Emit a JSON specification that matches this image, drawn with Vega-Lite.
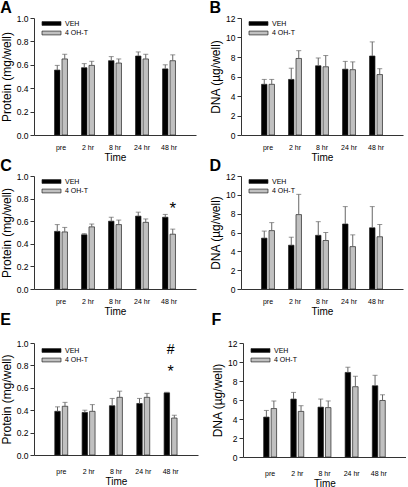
{
  "$schema": "https://vega.github.io/schema/vega-lite/v6.json",
  "padding": 0,
  "background": "white",
  "datasets": {
    "A": [
      {"time": "pre", "group": "VEH", "value": 0.555, "upper": 0.595},
      {"time": "pre", "group": "4 OH-T", "value": 0.65, "upper": 0.69},
      {"time": "2 hr", "group": "VEH", "value": 0.575, "upper": 0.61},
      {"time": "2 hr", "group": "4 OH-T", "value": 0.595, "upper": 0.63},
      {"time": "8 hr", "group": "VEH", "value": 0.635, "upper": 0.67},
      {"time": "8 hr", "group": "4 OH-T", "value": 0.615, "upper": 0.65},
      {"time": "24 hr", "group": "VEH", "value": 0.675, "upper": 0.71},
      {"time": "24 hr", "group": "4 OH-T", "value": 0.65, "upper": 0.69},
      {"time": "48 hr", "group": "VEH", "value": 0.565, "upper": 0.6},
      {"time": "48 hr", "group": "4 OH-T", "value": 0.635, "upper": 0.685}
    ],
    "B": [
      {"time": "pre", "group": "VEH", "value": 5.2, "upper": 5.7},
      {"time": "pre", "group": "4 OH-T", "value": 5.2, "upper": 5.7},
      {"time": "2 hr", "group": "VEH", "value": 5.7, "upper": 6.85},
      {"time": "2 hr", "group": "4 OH-T", "value": 7.85, "upper": 8.65},
      {"time": "8 hr", "group": "VEH", "value": 7.1, "upper": 7.9},
      {"time": "8 hr", "group": "4 OH-T", "value": 7.0, "upper": 8.15},
      {"time": "24 hr", "group": "VEH", "value": 6.75, "upper": 7.55},
      {"time": "24 hr", "group": "4 OH-T", "value": 6.7, "upper": 7.5},
      {"time": "48 hr", "group": "VEH", "value": 8.1, "upper": 9.55},
      {"time": "48 hr", "group": "4 OH-T", "value": 6.2, "upper": 6.8}
    ],
    "C": [
      {"time": "pre", "group": "VEH", "value": 0.51, "upper": 0.57},
      {"time": "pre", "group": "4 OH-T", "value": 0.505, "upper": 0.545},
      {"time": "2 hr", "group": "VEH", "value": 0.48, "upper": 0.49},
      {"time": "2 hr", "group": "4 OH-T", "value": 0.55, "upper": 0.575},
      {"time": "8 hr", "group": "VEH", "value": 0.6, "upper": 0.635},
      {"time": "8 hr", "group": "4 OH-T", "value": 0.57, "upper": 0.61},
      {"time": "24 hr", "group": "VEH", "value": 0.645, "upper": 0.68},
      {"time": "24 hr", "group": "4 OH-T", "value": 0.59, "upper": 0.62},
      {"time": "48 hr", "group": "VEH", "value": 0.635, "upper": 0.66},
      {"time": "48 hr", "group": "4 OH-T", "value": 0.485, "upper": 0.53}
    ],
    "D": [
      {"time": "pre", "group": "VEH", "value": 5.4, "upper": 6.15},
      {"time": "pre", "group": "4 OH-T", "value": 6.2, "upper": 7.05},
      {"time": "2 hr", "group": "VEH", "value": 4.65, "upper": 5.5},
      {"time": "2 hr", "group": "4 OH-T", "value": 7.9, "upper": 10.05},
      {"time": "8 hr", "group": "VEH", "value": 5.7, "upper": 7.15},
      {"time": "8 hr", "group": "4 OH-T", "value": 5.15, "upper": 6.0},
      {"time": "24 hr", "group": "VEH", "value": 6.9, "upper": 8.75},
      {"time": "24 hr", "group": "4 OH-T", "value": 4.5, "upper": 5.75},
      {"time": "48 hr", "group": "VEH", "value": 6.5, "upper": 8.75},
      {"time": "48 hr", "group": "4 OH-T", "value": 5.55, "upper": 6.85}
    ],
    "E": [
      {"time": "pre", "group": "VEH", "value": 0.39, "upper": 0.43},
      {"time": "pre", "group": "4 OH-T", "value": 0.435, "upper": 0.47},
      {"time": "2 hr", "group": "VEH", "value": 0.38, "upper": 0.4},
      {"time": "2 hr", "group": "4 OH-T", "value": 0.39, "upper": 0.45},
      {"time": "8 hr", "group": "VEH", "value": 0.44, "upper": 0.505},
      {"time": "8 hr", "group": "4 OH-T", "value": 0.515, "upper": 0.57},
      {"time": "24 hr", "group": "VEH", "value": 0.46, "upper": 0.505},
      {"time": "24 hr", "group": "4 OH-T", "value": 0.515, "upper": 0.55},
      {"time": "48 hr", "group": "VEH", "value": 0.555, "upper": 0.56},
      {"time": "48 hr", "group": "4 OH-T", "value": 0.33, "upper": 0.355}
    ],
    "F": [
      {"time": "pre", "group": "VEH", "value": 4.2, "upper": 4.9},
      {"time": "pre", "group": "4 OH-T", "value": 5.1, "upper": 5.9},
      {"time": "2 hr", "group": "VEH", "value": 6.1, "upper": 6.8},
      {"time": "2 hr", "group": "4 OH-T", "value": 4.8, "upper": 5.4},
      {"time": "8 hr", "group": "VEH", "value": 5.25, "upper": 6.1},
      {"time": "8 hr", "group": "4 OH-T", "value": 5.2, "upper": 5.9},
      {"time": "24 hr", "group": "VEH", "value": 8.9, "upper": 9.45},
      {"time": "24 hr", "group": "4 OH-T", "value": 7.4, "upper": 8.5},
      {"time": "48 hr", "group": "VEH", "value": 7.5, "upper": 8.6},
      {"time": "48 hr", "group": "4 OH-T", "value": 5.95, "upper": 6.55}
    ],
    "Cnote": [
      {"time": "48 hr", "group": "4 OH-T", "label": "*", "value": 0.71}
    ],
    "Ehash": [
      {"time": "48 hr", "label": "#", "value": 0.935}
    ],
    "Estar": [
      {"time": "48 hr", "label": "*", "value": 0.74}
    ]
  },
  "vconcat": [
    {
      "hconcat": [
        {
          "title": {"text": "A"},
          "width": 162, "height": 117,
          "data": {"name": "A"},
          "encoding": {
            "x": {"field": "time", "type": "nominal", "sort": ["pre", "2 hr", "8 hr", "24 hr", "48 hr"], "scale": {"paddingInner": 0.52, "paddingOuter": 0.76}, "axis": {"title": "Time"}},
            "xOffset": {"field": "group", "type": "nominal", "sort": ["VEH", "4 OH-T"], "scale": {"paddingInner": 0.27, "paddingOuter": 0}},
            "y": {"field": "value", "type": "quantitative", "scale": {"domain": [0, 1]}, "axis": {"title": "Protein (mg/well)", "values": [0, 0.2, 0.4, 0.6, 0.8, 1.0], "format": ".1f", "labelOverlap": false}}
          },
          "layer": [
            {"mark": {"type": "bar", "stroke": "#222", "strokeWidth": 0.7},
             "encoding": {
               "fill": {"field": "group", "type": "nominal", "sort": ["VEH", "4 OH-T"], "scale": {"domain": ["VEH", "4 OH-T"], "range": ["#000000", "#c0c0c0"]}, "legend": {"title": null, "orient": "none", "legendX": 12, "legendY": 0}}
             }},
            {"mark": {"type": "rule", "color": "#666", "strokeWidth": 1},
             "encoding": {"y2": {"field": "upper"}}},
            {"mark": {"type": "tick", "color": "#666", "size": 5, "thickness": 1},
             "encoding": {"y": {"field": "upper", "type": "quantitative", "axis": {"title": "Protein (mg/well)", "values": [0, 0.2, 0.4, 0.6, 0.8, 1.0], "format": ".1f", "labelOverlap": false}}}}
          ]
        },
        {
          "title": {"text": "B"},
          "width": 162, "height": 117,
          "data": {"name": "B"},
          "encoding": {
            "x": {"field": "time", "type": "nominal", "sort": ["pre", "2 hr", "8 hr", "24 hr", "48 hr"], "scale": {"paddingInner": 0.52, "paddingOuter": 0.76}, "axis": {"title": "Time"}},
            "xOffset": {"field": "group", "type": "nominal", "sort": ["VEH", "4 OH-T"], "scale": {"paddingInner": 0.27, "paddingOuter": 0}},
            "y": {"field": "value", "type": "quantitative", "scale": {"domain": [0, 12]}, "axis": {"title": "DNA (µg/well)", "values": [0, 2, 4, 6, 8, 10, 12], "labelOverlap": false}}
          },
          "layer": [
            {"mark": {"type": "bar", "stroke": "#222", "strokeWidth": 0.7},
             "encoding": {
               "fill": {"field": "group", "type": "nominal", "sort": ["VEH", "4 OH-T"], "scale": {"domain": ["VEH", "4 OH-T"], "range": ["#000000", "#c0c0c0"]}, "legend": {"title": null, "orient": "none", "legendX": 12, "legendY": 0}}
             }},
            {"mark": {"type": "rule", "color": "#666", "strokeWidth": 1},
             "encoding": {"y2": {"field": "upper"}}},
            {"mark": {"type": "tick", "color": "#666", "size": 5, "thickness": 1},
             "encoding": {"y": {"field": "upper", "type": "quantitative", "axis": {"title": "DNA (µg/well)", "values": [0, 2, 4, 6, 8, 10, 12], "labelOverlap": false}}}}
          ]
        }
      ],
      "spacing": 13,
      "resolve": {"scale": {"fill": "independent"}, "legend": {"fill": "independent"}}
    },
    {
      "hconcat": [
        {
          "title": {"text": "C"},
          "width": 162, "height": 113,
          "encoding": {
            "x": {"field": "time", "type": "nominal", "sort": ["pre", "2 hr", "8 hr", "24 hr", "48 hr"], "scale": {"paddingInner": 0.52, "paddingOuter": 0.76}, "axis": {"title": "Time"}},
            "xOffset": {"field": "group", "type": "nominal", "sort": ["VEH", "4 OH-T"], "scale": {"domain": ["VEH", "4 OH-T"], "paddingInner": 0.27, "paddingOuter": 0}},
            "y": {"field": "value", "type": "quantitative", "scale": {"domain": [0, 1]}, "axis": {"title": "Protein (mg/well)", "values": [0, 0.2, 0.4, 0.6, 0.8, 1.0], "format": ".1f", "labelOverlap": false}}
          },
          "layer": [
            {"data": {"name": "C"}, "mark": {"type": "bar", "stroke": "#222", "strokeWidth": 0.7},
             "encoding": {
               "fill": {"field": "group", "type": "nominal", "sort": ["VEH", "4 OH-T"], "scale": {"domain": ["VEH", "4 OH-T"], "range": ["#000000", "#c0c0c0"]}, "legend": {"title": null, "orient": "none", "legendX": 12, "legendY": 0}}
             }},
            {"data": {"name": "C"}, "mark": {"type": "rule", "color": "#666", "strokeWidth": 1},
             "encoding": {"y2": {"field": "upper"}}},
            {"data": {"name": "C"}, "mark": {"type": "tick", "color": "#666", "size": 5, "thickness": 1},
             "encoding": {"y": {"field": "upper", "type": "quantitative", "axis": {"title": "Protein (mg/well)", "values": [0, 0.2, 0.4, 0.6, 0.8, 1.0], "format": ".1f", "labelOverlap": false}}}},
            {"data": {"name": "Cnote"}, "mark": {"type": "text", "fontSize": 17, "baseline": "middle", "font": "Liberation Sans"},
             "encoding": {"text": {"field": "label"}}}
          ]
        },
        {
          "title": {"text": "D"},
          "width": 162, "height": 113,
          "data": {"name": "D"},
          "encoding": {
            "x": {"field": "time", "type": "nominal", "sort": ["pre", "2 hr", "8 hr", "24 hr", "48 hr"], "scale": {"paddingInner": 0.52, "paddingOuter": 0.76}, "axis": {"title": "Time"}},
            "xOffset": {"field": "group", "type": "nominal", "sort": ["VEH", "4 OH-T"], "scale": {"paddingInner": 0.27, "paddingOuter": 0}},
            "y": {"field": "value", "type": "quantitative", "scale": {"domain": [0, 12]}, "axis": {"title": "DNA (µg/well)", "values": [0, 2, 4, 6, 8, 10, 12], "labelOverlap": false}}
          },
          "layer": [
            {"mark": {"type": "bar", "stroke": "#222", "strokeWidth": 0.7},
             "encoding": {
               "fill": {"field": "group", "type": "nominal", "sort": ["VEH", "4 OH-T"], "scale": {"domain": ["VEH", "4 OH-T"], "range": ["#000000", "#c0c0c0"]}, "legend": {"title": null, "orient": "none", "legendX": 12, "legendY": 0}}
             }},
            {"mark": {"type": "rule", "color": "#666", "strokeWidth": 1},
             "encoding": {"y2": {"field": "upper"}}},
            {"mark": {"type": "tick", "color": "#666", "size": 5, "thickness": 1},
             "encoding": {"y": {"field": "upper", "type": "quantitative", "axis": {"title": "DNA (µg/well)", "values": [0, 2, 4, 6, 8, 10, 12], "labelOverlap": false}}}}
          ]
        }
      ],
      "spacing": 13,
      "resolve": {"scale": {"fill": "independent"}, "legend": {"fill": "independent"}}
    },
    {
      "hconcat": [
        {
          "title": {"text": "E", "offset": 11},
          "width": 164, "height": 112,
          "encoding": {
            "x": {"field": "time", "type": "nominal", "sort": ["pre", "2 hr", "8 hr", "24 hr", "48 hr"], "scale": {"paddingInner": 0.52, "paddingOuter": 0.76}, "axis": {"title": "Time", "labelPadding": 12}},
            "y": {"field": "value", "type": "quantitative", "scale": {"domain": [0, 1]}, "axis": {"title": "Protein (mg/well)", "values": [0, 0.2, 0.4, 0.6, 0.8, 1.0], "format": ".1f", "labelOverlap": false}}
          },
          "layer": [
            {"data": {"name": "E"}, "mark": {"type": "bar", "stroke": "#222", "strokeWidth": 0.7},
             "encoding": {
               "xOffset": {"field": "group", "type": "nominal", "sort": ["VEH", "4 OH-T"], "scale": {"domain": ["VEH", "4 OH-T"], "paddingInner": 0.27, "paddingOuter": 0}},
               "fill": {"field": "group", "type": "nominal", "sort": ["VEH", "4 OH-T"], "scale": {"domain": ["VEH", "4 OH-T"], "range": ["#000000", "#c0c0c0"]}, "legend": {"title": null, "orient": "none", "legendX": 12, "legendY": 2}}
             }},
            {"data": {"name": "E"}, "mark": {"type": "rule", "color": "#666", "strokeWidth": 1},
             "encoding": {
               "xOffset": {"field": "group", "type": "nominal", "sort": ["VEH", "4 OH-T"]},
               "y2": {"field": "upper"}}},
            {"data": {"name": "E"}, "mark": {"type": "tick", "color": "#666", "size": 5, "thickness": 1},
             "encoding": {
               "xOffset": {"field": "group", "type": "nominal", "sort": ["VEH", "4 OH-T"]},
               "y": {"field": "upper", "type": "quantitative", "axis": {"title": "Protein (mg/well)", "values": [0, 0.2, 0.4, 0.6, 0.8, 1.0], "format": ".1f", "labelOverlap": false}}}},
            {"data": {"name": "Ehash"}, "mark": {"type": "text", "fontSize": 14, "baseline": "middle", "font": "Liberation Sans"},
             "encoding": {"text": {"field": "label"}}},
            {"data": {"name": "Estar"}, "mark": {"type": "text", "fontSize": 16, "baseline": "middle", "font": "Liberation Sans"},
             "encoding": {"text": {"field": "label"}}}
          ]
        },
        {
          "title": {"text": "F", "offset": 11},
          "width": 163, "height": 114,
          "data": {"name": "F"},
          "encoding": {
            "x": {"field": "time", "type": "nominal", "sort": ["pre", "2 hr", "8 hr", "24 hr", "48 hr"], "scale": {"paddingInner": 0.52, "paddingOuter": 0.76}, "axis": {"title": "Time", "labelPadding": 12}},
            "xOffset": {"field": "group", "type": "nominal", "sort": ["VEH", "4 OH-T"], "scale": {"paddingInner": 0.27, "paddingOuter": 0}},
            "y": {"field": "value", "type": "quantitative", "scale": {"domain": [0, 12]}, "axis": {"title": "DNA (µg/well)", "values": [0, 2, 4, 6, 8, 10, 12], "labelOverlap": false}}
          },
          "layer": [
            {"mark": {"type": "bar", "stroke": "#222", "strokeWidth": 0.7},
             "encoding": {
               "fill": {"field": "group", "type": "nominal", "sort": ["VEH", "4 OH-T"], "scale": {"domain": ["VEH", "4 OH-T"], "range": ["#000000", "#c0c0c0"]}, "legend": {"title": null, "orient": "none", "legendX": 12, "legendY": 2}}
             }},
            {"mark": {"type": "rule", "color": "#666", "strokeWidth": 1},
             "encoding": {"y2": {"field": "upper"}}},
            {"mark": {"type": "tick", "color": "#666", "size": 5, "thickness": 1},
             "encoding": {"y": {"field": "upper", "type": "quantitative", "axis": {"title": "DNA (µg/well)", "values": [0, 2, 4, 6, 8, 10, 12], "labelOverlap": false}}}}
          ]
        }
      ],
      "spacing": 13,
      "resolve": {"scale": {"fill": "independent"}, "legend": {"fill": "independent"}}
    }
  ],
  "spacing": -4,
  "resolve": {"scale": {"fill": "independent"}, "legend": {"fill": "independent"}},
  "config": {
    "font": "Liberation Sans",
    "view": {"stroke": null},
    "axis": {"domainColor": "#333", "tickColor": "#333", "labelColor": "#000", "titleColor": "#000", "grid": false, "titleFontWeight": "normal", "labelFont": "Liberation Sans", "titleFont": "Liberation Sans"},
    "axisY": {"labelFontSize": 8.5, "tickSize": 4, "labelPadding": 2, "titleFontSize": 12, "titlePadding": 3},
    "axisX": {"labelFontSize": 7, "ticks": false, "labelPadding": 8, "labelAngle": 0, "titleFontSize": 10, "titlePadding": 2},
    "legend": {"labelFontSize": 7, "labelFont": "Liberation Sans", "labelColor": "#000", "symbolType": "M-2,-0.4H2V0.4H-2Z", "symbolSize": 90, "symbolStrokeColor": "#222", "symbolStrokeWidth": 0.7, "labelOffset": 8, "rowPadding": 0.5, "padding": 0},
    "title": {"fontSize": 16, "fontWeight": "bold", "anchor": "start", "frame": "bounds", "offset": -2, "color": "#000", "font": "Liberation Sans"}
  }
}
